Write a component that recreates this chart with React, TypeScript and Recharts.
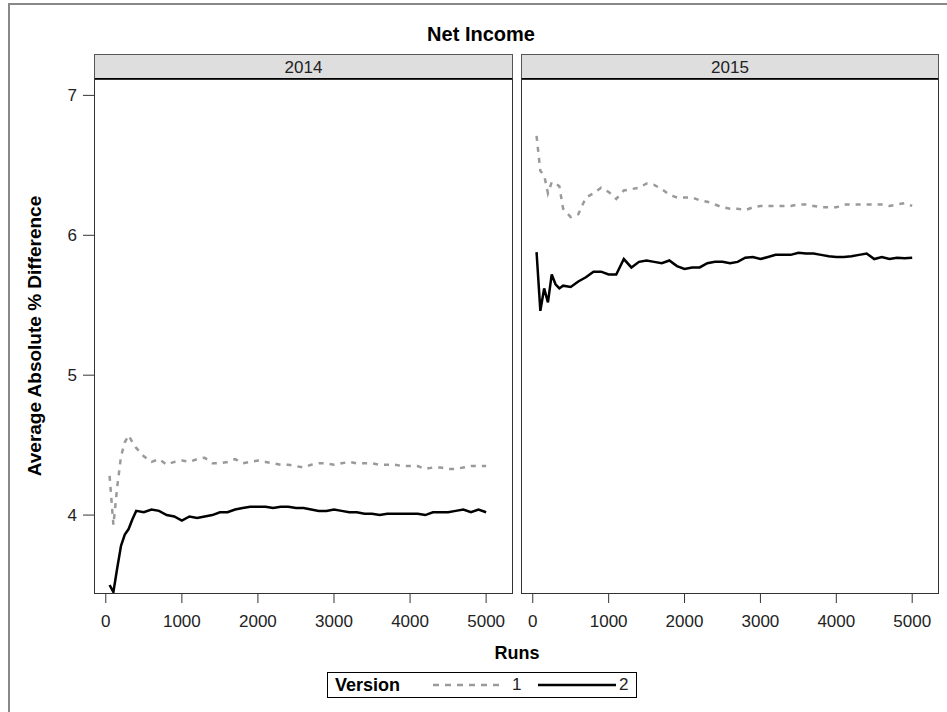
import { LineChart, Line, XAxis, YAxis } from 'recharts';

// x values (Runs) shared by every series
const runs = [
  50, 100, 150, 200, 250, 300, 350, 400, 500, 600, 700, 800, 900, 1000,
  1100, 1200, 1300, 1400, 1500, 1600, 1700, 1800, 1900, 2000, 2100, 2200,
  2300, 2400, 2500, 2600, 2700, 2800, 2900, 3000, 3100, 3200, 3300, 3400,
  3500, 3600, 3700, 3800, 3900, 4000, 4100, 4200, 4300, 4400, 4500, 4600,
  4700, 4800, 4900, 5000,
];

// 2014 panel
const v1_2014 = [
  4.28, 3.93, 4.2, 4.42, 4.52, 4.57, 4.52, 4.48, 4.42, 4.38, 4.4, 4.36, 4.38, 4.39,
  4.38, 4.4, 4.41, 4.37, 4.37, 4.38, 4.4, 4.37, 4.38, 4.39, 4.38, 4.37,
  4.36, 4.36, 4.35, 4.34, 4.36, 4.37, 4.37, 4.36, 4.37, 4.38, 4.37, 4.37,
  4.37, 4.36, 4.36, 4.36, 4.35, 4.35, 4.35, 4.33, 4.34, 4.34, 4.33, 4.33,
  4.34, 4.35, 4.35, 4.35,
];
const v2_2014 = [
  3.5, 3.45, 3.62, 3.78, 3.86, 3.9, 3.97, 4.03, 4.02, 4.04, 4.03, 4.0, 3.99, 3.96,
  3.99, 3.98, 3.99, 4.0, 4.02, 4.02, 4.04, 4.05, 4.06, 4.06, 4.06, 4.05,
  4.06, 4.06, 4.05, 4.05, 4.04, 4.03, 4.03, 4.04, 4.03, 4.02, 4.02, 4.01,
  4.01, 4.0, 4.01, 4.01, 4.01, 4.01, 4.01, 4.0, 4.02, 4.02, 4.02, 4.03,
  4.04, 4.02, 4.04, 4.02,
];

// 2015 panel
const v1_2015 = [
  6.71, 6.46, 6.43, 6.3, 6.38, 6.37, 6.35, 6.19, 6.13, 6.15, 6.27, 6.3, 6.34, 6.31,
  6.26, 6.32, 6.33, 6.34, 6.37, 6.36, 6.33, 6.29, 6.27, 6.27, 6.27, 6.25,
  6.24, 6.22, 6.2, 6.19, 6.19, 6.18, 6.2, 6.21, 6.21, 6.21, 6.21, 6.21,
  6.22, 6.22, 6.21, 6.2, 6.2, 6.2, 6.22, 6.22, 6.22, 6.22, 6.22, 6.22,
  6.21, 6.22, 6.23, 6.21,
];
const v2_2015 = [
  5.88, 5.46, 5.62, 5.52, 5.72, 5.65, 5.62, 5.64, 5.63, 5.67, 5.7, 5.74, 5.74, 5.72,
  5.72, 5.83, 5.77, 5.81, 5.82, 5.81, 5.8, 5.82, 5.78, 5.76, 5.77, 5.77,
  5.8, 5.81, 5.81, 5.8, 5.81, 5.84, 5.845, 5.83, 5.845, 5.86, 5.86, 5.86,
  5.875, 5.87, 5.87, 5.86, 5.85, 5.845, 5.845, 5.85, 5.86, 5.87, 5.83, 5.845,
  5.83, 5.84, 5.835, 5.84,
];

const xTicks = [0, 1000, 2000, 3000, 4000, 5000];
const yTicks = [4, 5, 6, 7];
const panels = ['2014', '2015'];

const FONT = '"Liberation Sans", Arial, Helvetica, sans-serif';
const X_DOMAIN: [number, number] = [-155, 5340];
const Y_DOMAIN: [number, number] = [3.443, 7.11];

const data2014 = runs.map((r, i) => ({ runs: r, v1: v1_2014[i], v2: v2_2014[i] }));
const data2015 = runs.map((r, i) => ({ runs: r, v1: v1_2015[i], v2: v2_2015[i] }));

const tickStyle = { fill: '#222', fontSize: 17, fontFamily: FONT };

function Panel({ data, showY, width, right }: { data: any[]; showY: boolean; width: number; right: number }) {
  return (
    <LineChart width={width} height={650} data={data} margin={{ top: 80, right, bottom: 17, left: 0 }}>
      <XAxis
        dataKey="runs"
        type="number"
        domain={X_DOMAIN}
        ticks={xTicks}
        interval={0}
        allowDataOverflow
        axisLine={false}
        tickLine={{ stroke: '#333' }}
        tickSize={10}
        tickMargin={12}
        height={40}
        tick={tickStyle}
      />
      <YAxis
        type="number"
        domain={Y_DOMAIN}
        ticks={yTicks}
        interval={0}
        allowDataOverflow
        hide={!showY}
        width={94}
        axisLine={false}
        tickLine={{ stroke: '#333' }}
        tickSize={11}
        tickMargin={6}
        tick={tickStyle}
      />
      <Line type="linear" dataKey="v1" stroke="#9a9a9a" strokeWidth={2.5} strokeDasharray="5 6" dot={false} isAnimationActive={false} />
      <Line type="linear" dataKey="v2" stroke="#000" strokeWidth={2.5} dot={false} isAnimationActive={false} />
    </LineChart>
  );
}

const abs = (s: any) => ({ position: 'absolute' as const, ...s });

export default function App() {
  const frames = [
    { left: 94, width: 419 },
    { left: 521, width: 418 },
  ];
  return (
    <div style={abs({ left: 0, top: 0, width: 947, height: 712, overflow: 'hidden', background: '#fff', fontFamily: FONT, color: '#000' })}>
      <div style={abs({ left: 8, top: 3, width: 1000, height: 1000, border: '2px solid #888', boxSizing: 'border-box' })} />

      <div style={abs({ left: 0, top: 24, width: 962, textAlign: 'center', fontSize: 20, lineHeight: '20px', fontWeight: 'bold' })}>Net Income</div>

      {frames.map((f, i) => (
        <div key={panels[i]}>
          <div style={abs({ left: f.left, top: 54, width: f.width, height: 26, background: '#dedede', borderTop: '1px solid #555', borderLeft: '1px solid #555', borderRight: '1px solid #555', borderBottom: '2px solid #000', boxSizing: 'border-box' })} />
          <div style={abs({ left: f.left, top: 59, width: f.width, textAlign: 'center', fontSize: 17, lineHeight: '17px', color: '#222' })}>{panels[i]}</div>
        </div>
      ))}

      <div style={abs({ left: 0, top: 0 })}>
        <Panel data={data2014} showY width={530} right={18} />
      </div>
      <div style={abs({ left: 521, top: 0 })}>
        <Panel data={data2015} showY={false} width={430} right={13} />
      </div>

      {frames.map((f) => (
        <div key={f.left} style={abs({ left: f.left, top: 79, width: f.width, height: 515, border: '1px solid #333', boxSizing: 'border-box', pointerEvents: 'none' })} />
      ))}

      <div style={abs({ left: 35 - 200, top: 336 - 12, width: 400, height: 24, lineHeight: '24px', textAlign: 'center', fontSize: 19, fontWeight: 'bold', transform: 'rotate(-90deg)' })}>
        Average Absolute % Difference
      </div>

      <div style={abs({ left: 417, top: 644, width: 200, textAlign: 'center', fontSize: 18, lineHeight: '18px', fontWeight: 'bold' })}>Runs</div>

      <div style={abs({ left: 327, top: 672, width: 310, height: 26, border: '1px solid #000', boxSizing: 'border-box' })}>
        <div style={abs({ left: 7, top: 3, fontSize: 18, lineHeight: '18px', fontWeight: 'bold' })}>Version</div>
        <svg style={abs({ left: 0, top: 0 })} width={308} height={24}>
          <line x1={105} x2={171} y1={12} y2={12} stroke="#9a9a9a" strokeWidth={2.5} strokeDasharray="6 6" />
          <line x1={210} x2={288} y1={12} y2={12} stroke="#000" strokeWidth={2.5} />
        </svg>
        <div style={abs({ left: 184, top: 3, fontSize: 17, lineHeight: '18px', color: '#222' })}>1</div>
        <div style={abs({ left: 291, top: 3, fontSize: 17, lineHeight: '18px', color: '#222' })}>2</div>
      </div>
    </div>
  );
}
